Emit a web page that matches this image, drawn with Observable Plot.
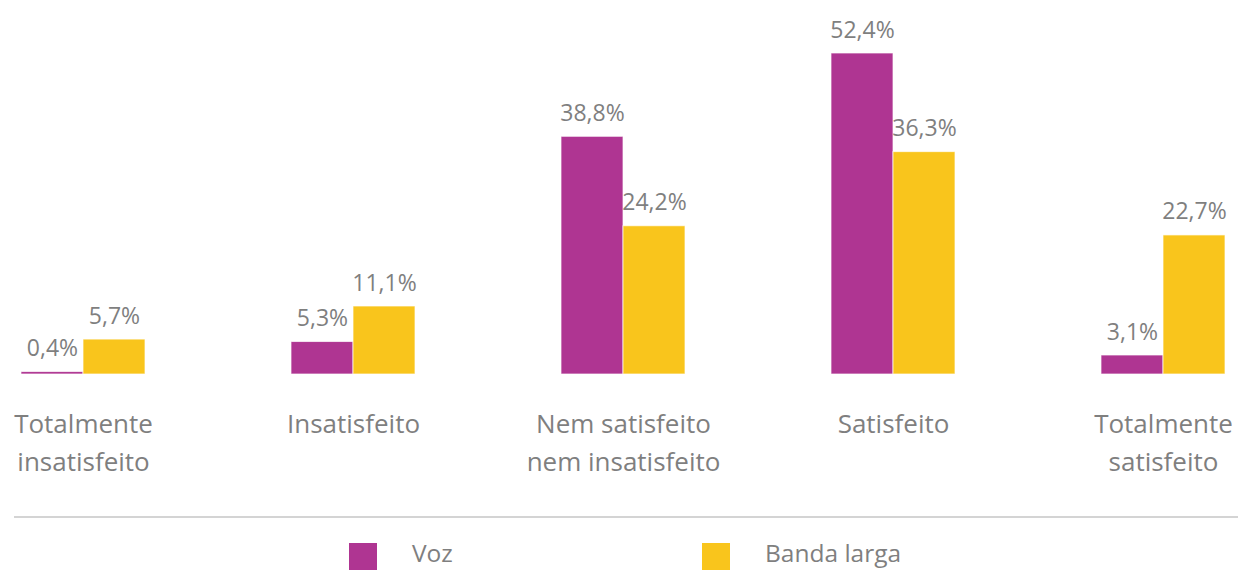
<!DOCTYPE html>
<html><head><meta charset="utf-8">
<script src="https://cdn.jsdelivr.net/npm/d3@7"></script>
<script src="https://cdn.jsdelivr.net/npm/@observablehq/plot@0.6"></script>
<style>
body{margin:0;background:#fff;font-family:"Open Sans",sans-serif;}
#wrap{position:relative;width:1238px;height:570px;overflow:hidden}
#chart{position:absolute;left:0;top:0}
#rule{position:absolute;left:14px;right:0;top:516px;height:2px;background:#d4d4d4}
#legend{position:absolute;left:349px;top:543px;display:flex}
.item{width:353px;display:flex;align-items:flex-start}
.sw{width:28px;height:27px;flex:none}
.lt{margin-left:35px;font-size:24.5px;color:#7f7f7f;line-height:22px;margin-top:-1px;white-space:nowrap}
</style></head><body>
<div id="wrap"><div id="chart"></div><div id="rule"></div><div id="legend"></div></div>
<script>
const categories = ["Totalmente\ninsatisfeito", "Insatisfeito", "Nem satisfeito\nnem insatisfeito", "Satisfeito", "Totalmente\nsatisfeito"];
const series = ["Voz", "Banda larga"];
const voz = [0.4, 5.3, 38.8, 52.4, 3.1];
const bandaLarga = [5.7, 11.1, 24.2, 36.3, 22.7];
const colors = ["#AF3592", "#F9C51C"];

const seriesValues = [voz, bandaLarga];
const data = [];
categories.forEach((c, i) => series.forEach((s, j) => data.push({category: c, series: s, value: seriesValues[j][i]})));
const fmt = v => v.toFixed(1).replace(".", ",") + "%";
const textColor = "#7f7f7f";

const chart = Plot.plot({
  width: 1238,
  height: 500,
  marginLeft: 21,
  marginRight: 13,
  marginTop: 53,
  marginBottom: 126,
  style: {fontFamily: "'Open Sans', sans-serif", fontSize: "23px", color: textColor, background: "transparent"},
  fx: {domain: categories, paddingInner: 1 - 124 / 270, paddingOuter: 0, label: null},
  x: {domain: series, padding: 0, axis: null},
  y: {domain: [0, d3.max(data, d => d.value)], axis: null},
  color: {domain: series, range: colors},
  marks: [
    Plot.barY(data, {fx: "category", x: "series", y: "value", fill: "series", stroke: "white", strokeWidth: 1, strokeOpacity: 0.7}),
    Plot.text(data, {fx: "category", x: "series", y: "value", text: d => fmt(d.value), lineAnchor: "bottom", dy: -16, fill: textColor, fontSize: 23}),
    Plot.axisFx({anchor: "bottom", tickSize: 0, tickPadding: 32, fontSize: 26, lineHeight: 1.46, fill: textColor, label: null})
  ]
});
document.getElementById("chart").appendChild(chart);

const legend = document.getElementById("legend");
series.forEach((s, i) => {
  const item = document.createElement("div");
  item.className = "item";
  item.innerHTML = `<div class="sw" style="background:${colors[i]}"></div><div class="lt">${s}</div>`;
  legend.appendChild(item);
});
</script>
</body></html>
